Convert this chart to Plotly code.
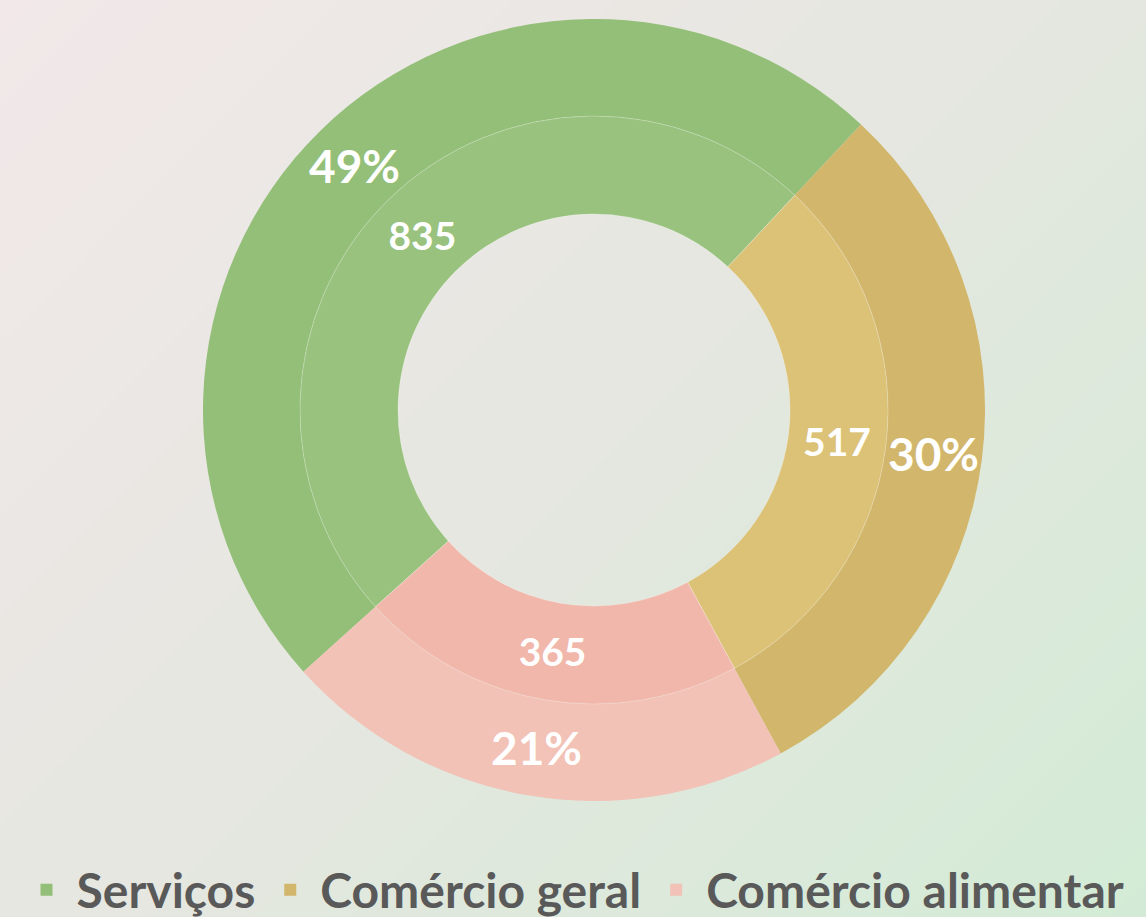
import math
import plotly.graph_objects as go

# data
categories = ["Serviços", "Comércio geral", "Comércio alimentar"]
counts = [835, 517, 365]

colors_outer = ["#94bf78", "#d2b66c", "#f2c2b6"]
colors_inner = ["#98c27d", "#dcc277", "#f0b7aa"]

W, H = 1146, 917
CX, CY = 594, 410          # ring centre (px)
R_OUT, R_MID, R_HOLE = 391, 294, 196
ROTATION = 228


def lerp(c1, c2, t):
    a = [int(c1[i:i + 2], 16) for i in (1, 3, 5)]
    b = [int(c2[i:i + 2], 16) for i in (1, 3, 5)]
    return "rgb(%d,%d,%d)" % tuple(round(a[k] + (b[k] - a[k]) * t) for k in range(3))


def bg_shapes(n=60):
    """Diagonal gradient bands: pinkish top-left -> greenish bottom-right."""
    stops = ["#f2e8e9", "#e5e7e0", "#d3ebd6"]
    total = W + H
    shapes = []
    for i in range(n):
        a = total * i / n - 2
        b = total * (i + 1) / n + 2
        t = (i + 0.5) / n
        col = lerp(stops[0], stops[1], t / 0.5) if t < 0.5 else lerp(stops[1], stops[2], (t - 0.5) / 0.5)
        pts = [(a + 100, -100), (b + 100, -100), (b - H - 100, H + 100), (a - H - 100, H + 100)]
        path = "M " + " L ".join("%.4f,%.4f" % (x / W, 1 - y / H) for x, y in pts) + " Z"
        shapes.append(dict(type="path", path=path, xref="paper", yref="paper",
                           fillcolor=col, line=dict(width=0), layer="below"))
    return shapes


def domain(r):
    return dict(x=[(CX - r) / W, (CX + r) / W], y=[1 - (CY + r) / H, 1 - (CY - r) / H])


# percentage labels for the outer ring, placed at each slice's mid-angle
total = sum(counts)
annotations = []
start = ROTATION
r_lab = (R_OUT + R_MID) / 2
for v in counts:
    sweep = 360 * v / total
    mid = math.radians(start + sweep / 2)
    annotations.append(dict(
        x=(CX + r_lab * math.sin(mid)) / W,
        y=1 - (CY - r_lab * math.cos(mid)) / H,
        xref="paper", yref="paper", xanchor="center", yanchor="middle",
        showarrow=False,
        text="%d%%" % round(100 * v / total),
        font=dict(family="Lato", size=46, color="white", weight="bold"),
    ))
    start += sweep

fig = go.Figure()

fig.add_trace(go.Pie(
    labels=categories,
    values=counts,
    hole=R_MID / R_OUT,
    sort=False,
    direction="clockwise",
    rotation=ROTATION,
    marker=dict(colors=colors_outer, line=dict(width=0)),
    textinfo="none",
    domain=domain(R_OUT),
))

fig.add_trace(go.Pie(
    labels=categories,
    values=counts,
    hole=R_HOLE / R_MID,
    sort=False,
    direction="clockwise",
    rotation=ROTATION,
    marker=dict(colors=colors_inner, line=dict(width=1, color="rgba(255,255,255,0.25)")),
    texttemplate="%{value}",
    textposition="inside",
    insidetextorientation="horizontal",
    textfont=dict(family="Lato", size=39, color="white", weight="bold"),
    domain=domain(R_MID),
    showlegend=False,
))

fig.update_layout(
    width=W,
    height=H,
    margin=dict(l=0, r=0, t=0, b=0, autoexpand=False),
    paper_bgcolor="#e6e7e0",
    shapes=bg_shapes(),
    annotations=annotations,
    legend=dict(
        orientation="h",
        x=0.5,
        xanchor="center",
        y=1 - 890 / H,
        yanchor="middle",
        bgcolor="rgba(0,0,0,0)",
        font=dict(family="Lato", size=48, color="#595959", weight="bold"),
        itemwidth=50,
        traceorder="normal",
    ),
)

fig.write_html("out.html", config={"displayModeBar": False},
               post_script="document.body.style.margin='0';")
